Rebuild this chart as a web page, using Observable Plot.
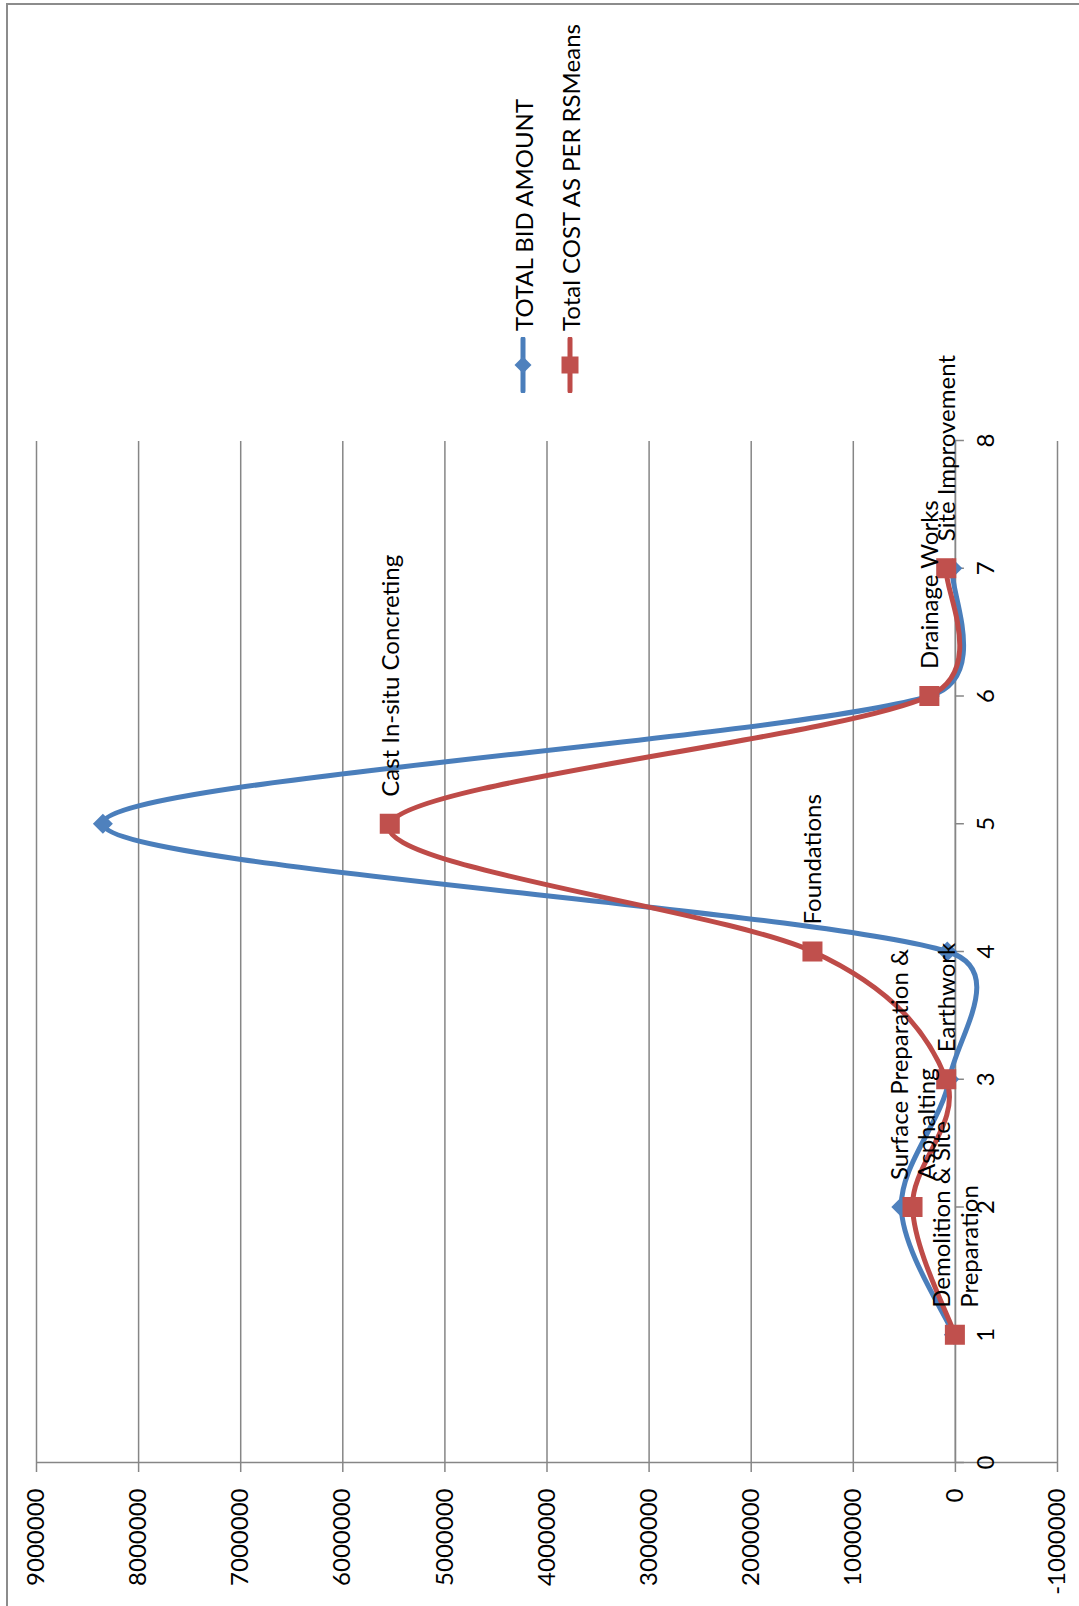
<!DOCTYPE html>
<html><head><meta charset="utf-8">
<script src="https://cdn.jsdelivr.net/npm/d3@7"></script>
<script src="https://cdn.jsdelivr.net/npm/@observablehq/plot@0.6"></script>
<style>
html,body{margin:0;padding:0;background:#fff;width:1079px;height:1606px;overflow:hidden;}
#frame{position:absolute;left:6px;top:3px;width:1200px;height:1700px;border-left:2px solid #8c8c8c;border-top:2px solid #8c8c8c;box-sizing:border-box;}
#rot{position:absolute;left:0;top:0;width:1606px;height:1079px;transform-origin:0 0;transform:translate(0px,1606px) rotate(-90deg);font-family:Lato, sans-serif;}
#chart{position:absolute;left:0;top:0;}
.leg{position:absolute;left:1213px;height:30px;display:flex;align-items:center;font-size:24px;color:#000;white-space:nowrap;}
.leg svg{display:block;margin-right:6px;}
</style></head>
<body>
<div id="frame"></div>
<div id="rot"><div id="chart"></div><div id="legend"></div></div>
<script>
const categories = [1, 2, 3, 4, 5, 6, 7];
const categoryNames = ["Demolition & Site\nPreparation", "Surface Preparation &\nAsphalting", "Earthwork", "Foundations", "Cast In-situ Concreting", "Drainage Works", "Site Improvement"];
const totalBid = [15000, 530000, 60000, 80000, 8350000, 250000, 30000];
const rsMeans = [5000, 420000, 90000, 1400000, 5540000, 255000, 90000];
const xTicks = [0, 1, 2, 3, 4, 5, 6, 7, 8];
const yTicks = [-1000000, 0, 1000000, 2000000, 3000000, 4000000, 5000000, 6000000, 7000000, 8000000, 9000000];
const seriesNames = ["TOTAL BID AMOUNT", "Total COST AS PER RSMeans"];
const seriesColors = ["#4A7EBB", "#BE4B48"];
const markerColors = ["#4F81BD", "#C0504D"];

const bid = categories.map((c, i) => ({x: c, y: totalBid[i]}));
const cost = categories.map((c, i) => ({x: c, y: rsMeans[i], label: categoryNames[i]}));

// Spreadsheet-style smoothed line (Bezier segments, control arms capped at half the segment length)
function SmoothCurve(context) { this._context = context; }
SmoothCurve.prototype = {
  areaStart() {}, areaEnd() {},
  lineStart() { this._pts = []; },
  point(x, y) { this._pts.push([+x, +y]); },
  lineEnd() {
    const p = this._pts, n = p.length, c = this._context;
    if (!n) return;
    c.moveTo(p[0][0], p[0][1]);
    const dist = (a, b) => Math.hypot(a[0] - b[0], a[1] - b[1]);
    for (let i = 0; i < n - 1; i++) {
      const p0 = p[Math.max(i - 1, 0)], p1 = p[i], p2 = p[i + 1], p3 = p[Math.min(i + 2, n - 1)];
      const d12 = dist(p1, p2), d02 = dist(p0, p2), d13 = dist(p1, p3);
      const f = (d02 / 6 < d12 / 2 || d02 === 0) ? 1 / 6 : d12 / d02 / 2;
      const g = (d13 / 6 < d12 / 2 || d13 === 0) ? 1 / 6 : d12 / d13 / 2;
      c.bezierCurveTo(
        p1[0] + f * (p2[0] - p0[0]), p1[1] + f * (p2[1] - p0[1]),
        p2[0] - g * (p3[0] - p1[0]), p2[1] - g * (p3[1] - p1[1]),
        p2[0], p2[1]);
    }
  }
};
const smooth = context => new SmoothCurve(context);

const W = 1606, H = 1079, mt = 36, mb = 22, ml = 143, mr = 441;
const yDomain = [yTicks[0], yTicks[yTicks.length - 1]];
const zeroOffset = (H - mt - mb) * (0 - yDomain[0]) / (yDomain[1] - yDomain[0]);
const gridColor = "#868686";

const chart = Plot.plot({
  width: W, height: H,
  marginTop: mt, marginBottom: mb, marginLeft: ml, marginRight: mr,
  style: {fontFamily: "Lato, sans-serif", fontSize: "24px", color: "#000", background: "transparent"},
  x: {domain: [xTicks[0], xTicks[xTicks.length - 1]]},
  y: {domain: yDomain},
  marks: [
    Plot.gridY(yTicks, {stroke: gridColor, strokeOpacity: 1, strokeWidth: 1.5}),
    Plot.ruleX([0], {stroke: gridColor, strokeWidth: 1.5}),
    Plot.ruleY([0], {stroke: gridColor, strokeWidth: 1.5}),
    Plot.axisY(yTicks, {tickSize: 9, tickPadding: 17, tickFormat: d => String(d), stroke: gridColor, strokeWidth: 1.5, fill: "#000", label: null}),
    Plot.axisX(xTicks, {anchor: "bottom", tickSize: 9, tickPadding: 13, dy: -zeroOffset, tickFormat: d => String(d), stroke: gridColor, strokeWidth: 1.5, fill: "#000", label: null}),
    Plot.line(bid, {x: "x", y: "y", curve: smooth, stroke: seriesColors[0], strokeWidth: 5}),
    Plot.dot(bid, {x: "x", y: "y", symbol: "diamond2", r: 9, fill: markerColors[0], stroke: "none"}),
    Plot.line(cost, {x: "x", y: "y", curve: smooth, stroke: seriesColors[1], strokeWidth: 5}),
    Plot.dot(cost, {x: "x", y: "y", symbol: "square", r: 11.3, fill: markerColors[1], stroke: "none"}),
    Plot.text(cost, {x: "x", y: "y", text: "label", textAnchor: "start", lineAnchor: "middle", dx: 27, lineHeight: 1.15, fill: "#000", ariaLabel: "data-labels"})
  ]
});
document.getElementById("chart").append(chart);

// center the lines of multi-line labels inside their label box (as the original does)
chart.querySelectorAll('g[aria-label="data-labels"] text').forEach(t => {
  const spans = t.querySelectorAll("tspan");
  if (spans.length < 2) return;
  let w = 0;
  spans.forEach(s => { w = Math.max(w, s.getComputedTextLength()); });
  t.setAttribute("text-anchor", "middle");
  spans.forEach(s => s.setAttribute("x", w / 2));
});

// legend
const legend = document.getElementById("legend");
const legendCenters = [523, 570];
seriesNames.forEach((name, i) => {
  const row = document.createElement("div");
  row.className = "leg";
  row.style.top = (legendCenters[i] - 15) + "px";
  const marker = i === 0
    ? `<path d="M28,6.5L36.5,15L28,23.5L19.5,15Z" fill="${markerColors[0]}"/>`
    : `<rect x="19.5" y="6.5" width="17" height="17" fill="${markerColors[1]}"/>`;
  row.innerHTML = `<svg width="56" height="30"><line x1="2" y1="15" x2="54" y2="15" stroke="${seriesColors[i]}" stroke-width="5" stroke-linecap="round"/>${marker}</svg><span>${name}</span>`;
  legend.append(row);
});
</script>
</body></html>
